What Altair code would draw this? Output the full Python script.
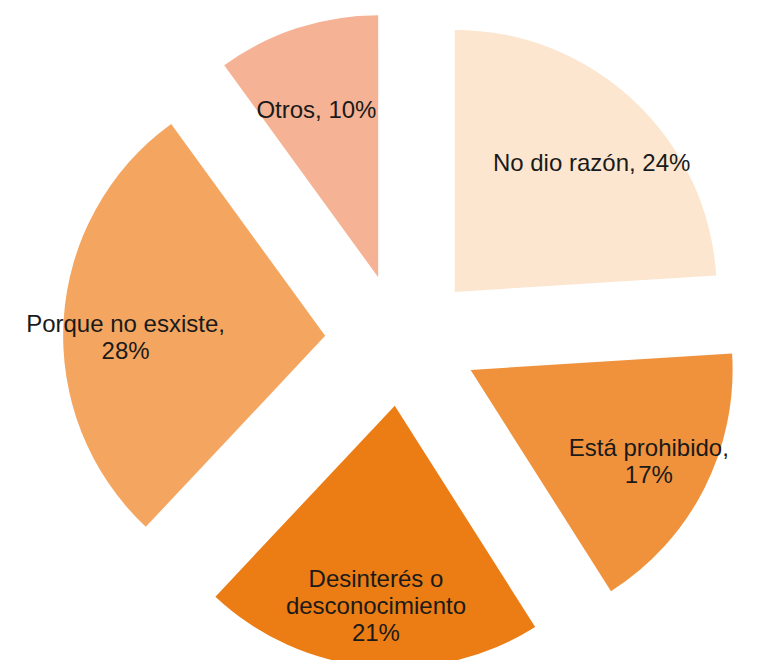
import altair as alt
import pandas as pd

categories = ["No dio razón", "Está prohibido", "Desinterés o desconocimiento", "Porque no esxiste", "Otros"]
values = [24, 17, 21, 28, 10]
label_prefix = ["No dio razón, ", "Está prohibido,\n", "Desinterés o\ndesconocimiento\n", "Porque no esxiste,\n", "Otros, "]
colors = ["#FDE6CF", "#F0923C", "#EC7C14", "#F4A660", "#F5B294"]

df = pd.DataFrame({
    "cat": categories,
    "value": values,
    "order": list(range(len(values))),
    "label": [p + f"{v}%" for p, v in zip(label_prefix, values)],
    "color": colors,
})

CX, CY, DX, DY, R, LRX, LRY = 394, 332, 77, 66, 262, 200, 175

base = alt.Chart(df).transform_window(
    cum="sum(value)", sort=[alt.SortField("order")], frame=[None, 0]
).transform_joinaggregate(
    total="sum(value)"
).transform_calculate(
    a0="(datum.cum - datum.value) / datum.total * 2 * PI",
    a1="datum.cum / datum.total * 2 * PI",
).transform_calculate(
    mid="(datum.a0 + datum.a1) / 2",
).transform_calculate(
    px=f"{CX} + {DX} * sin(datum.mid)",
    py=f"{CY} - {DY} * cos(datum.mid)",
).transform_calculate(
    lx=f"datum.px + {LRX} * sin(datum.mid)",
    ly=f"datum.py - {LRY} * cos(datum.mid)",
)

arcs = base.mark_arc(radius=R, stroke=None).encode(
    x=alt.X("px:Q", scale=None, axis=None),
    y=alt.Y("py:Q", scale=None, axis=None),
    theta=alt.Theta("a0:Q", scale=None),
    theta2="a1:Q",
    color=alt.Color("color:N", scale=None, legend=None),
)

texts = base.mark_text(
    fontSize=24, font="Liberation Sans", color="#1a1a1a",
    lineBreak="\n", lineHeight=27, align="center", baseline="middle",
).encode(
    x=alt.X("lx:Q", scale=None, axis=None),
    y=alt.Y("ly:Q", scale=None, axis=None),
    text="label:N",
)

chart = alt.layer(arcs, texts).properties(
    width=760, height=652, padding=0, autosize="none", background="white"
).configure_view(stroke=None)

chart.save("out.html", embed_options={"renderer": "svg", "actions": False})
